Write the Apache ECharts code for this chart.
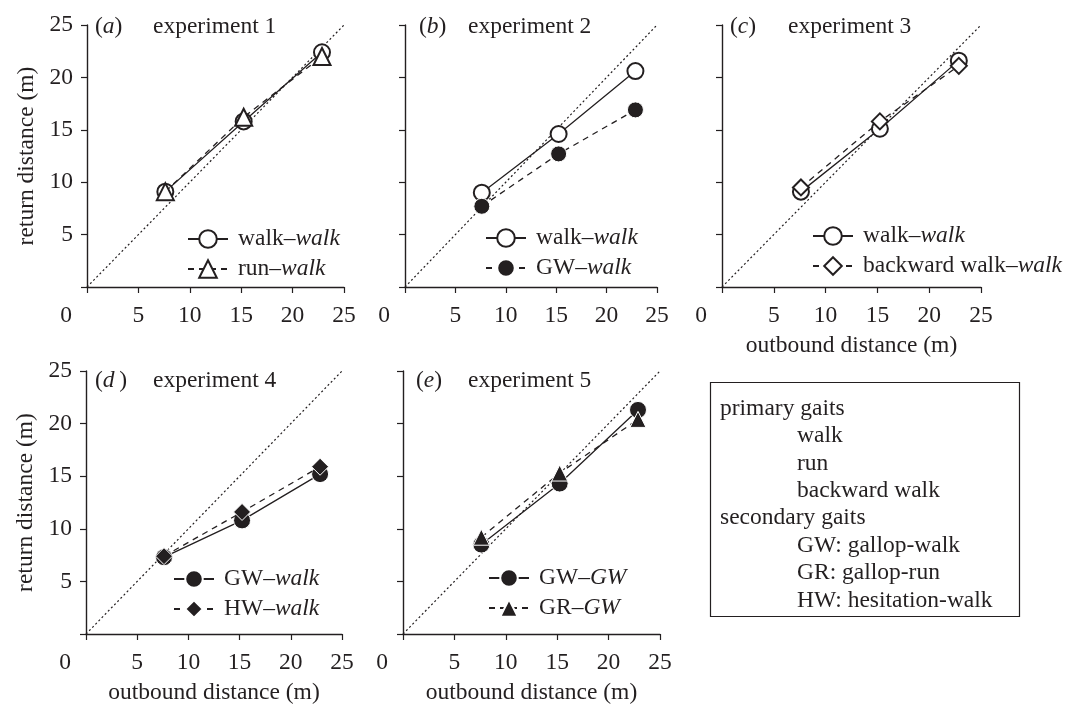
<!DOCTYPE html>
<html>
<head>
<meta charset="utf-8">
<script src="https://cdn.jsdelivr.net/npm/echarts@6/dist/echarts.min.js"></script>
<style>
html,body{margin:0;padding:0;background:#fff;}
#chart{width:1065px;height:706px;}
</style>
</head>
<body>
<div id="chart"></div>
<script>
// ---------- data ----------
const outbound = [7.62, 15.24, 22.86];           // outbound distances (m)
const identityLine = [0, 25];                    // y = x reference
const axisTicks = [0, 5, 10, 15, 20, 25];

const exp1WalkWalk = [9.1, 15.8, 22.4];
const exp1RunWalk = [9.1, 16.2, 22.0];
const exp2WalkWalk = [9.0, 14.6, 20.6];
const exp2GWWalk = [7.7, 12.7, 16.9];
const exp3WalkWalk = [9.1, 15.1, 21.6];
const exp3BackwardWalk = [9.5, 15.8, 21.1];
const exp4GWWalk = [7.3, 10.8, 15.2];
const exp4HWWalk = [7.4, 11.6, 15.9];
const exp5GWGW = [8.5, 14.3, 21.3];
const exp5GRGW = [9.2, 15.3, 20.4];

const panelLetters = ['a', 'b', 'c', 'd', 'e'];
const panelTitles = ['experiment 1', 'experiment 2', 'experiment 3', 'experiment 4', 'experiment 5'];
const yAxisTitle = 'return distance (m)';
const xAxisTitle = 'outbound distance (m)';
const primaryGaits = ['walk', 'run', 'backward walk'];
const secondaryGaits = ['GW: gallop-walk', 'GR: gallop-run', 'HW: hesitation-walk'];

// ---------- layout / style ----------
const FONT = '"Liberation Serif", "DejaVu Serif", serif';
const FS = 23.5;
const INK = '#231f20';

const panels = [
  { grid: {left: 87, top: 25, width: 257, height: 262}, yLabels: true, xName: false,
    legend: {left: 187, top: 227}, letterLeft: 95, titleLeft: 153, titleTop: 15,
    series: [
      {name: 'walk–walk', data: exp1WalkWalk, symbol: 'emptyCircle', size: 16, dashed: false},
      {name: 'run–walk', data: exp1RunWalk, symbol: 'emptyTriangle', size: 17, dashed: true}
    ]},
  { grid: {left: 405, top: 25, width: 252, height: 262}, yLabels: false, xName: false,
    legend: {left: 485, top: 226}, letterLeft: 419, titleLeft: 468, titleTop: 15,
    series: [
      {name: 'walk–walk', data: exp2WalkWalk, symbol: 'emptyCircle', size: 16, dashed: false},
      {name: 'GW–walk', data: exp2GWWalk, symbol: 'circle', size: 16, dashed: true}
    ]},
  { grid: {left: 722, top: 25, width: 259, height: 262}, yLabels: false, xName: true,
    legend: {left: 812, top: 224}, letterLeft: 730, titleLeft: 788, titleTop: 15,
    series: [
      {name: 'walk–walk', data: exp3WalkWalk, symbol: 'emptyCircle', size: 16, dashed: false},
      {name: 'backward walk–walk', data: exp3BackwardWalk, symbol: 'emptyDiamond', size: 16, dashed: true}
    ]},
  { grid: {left: 86, top: 371, width: 256, height: 263}, yLabels: true, xName: true,
    legend: {left: 173, top: 567}, letterLeft: 95, titleLeft: 153, titleTop: 369,
    series: [
      {name: 'GW–walk', data: exp4GWWalk, symbol: 'circle', size: 17, dashed: false},
      {name: 'HW–walk', data: exp4HWWalk, symbol: 'diamond', size: 17, dashed: true}
    ]},
  { grid: {left: 403, top: 371, width: 257, height: 263}, yLabels: false, xName: true,
    legend: {left: 488, top: 566}, letterLeft: 416, titleLeft: 468, titleTop: 369,
    series: [
      {name: 'GW–GW', data: exp5GWGW, symbol: 'circle', size: 17, dashed: false},
      {name: 'GR–GW', data: exp5GRGW, symbol: 'triangle', size: 16, dashed: true}
    ]}
];

const uniq = (name, i) => name + '\u200b'.repeat(i + 1);
const clean = name => name.replace(/\u200b/g, '');

const grid = [], xAxis = [], yAxis = [], series = [], legend = [], title = [];

panels.forEach((p, i) => {
  grid.push(Object.assign({containLabel: false}, p.grid));
  xAxis.push({
    type: 'value', gridIndex: i, min: axisTicks[0], max: axisTicks[axisTicks.length - 1], interval: 5,
    splitLine: {show: false},
    axisLine: {onZero: false, lineStyle: {color: INK, width: 1.4}},
    axisTick: {show: true, inside: false, length: 6, lineStyle: {color: INK, width: 1.2}},
    axisLabel: {
      margin: 17, color: INK, fontFamily: FONT, fontSize: FS,
      formatter: v => v === 0 ? '{z|0}' : String(v),
      rich: {z: {padding: [0, 42, 0, 0], fontFamily: FONT, fontSize: FS, color: INK}}
    },
    name: p.xName ? xAxisTitle : '', nameLocation: 'middle', nameGap: 47,
    nameTextStyle: {color: INK, fontFamily: FONT, fontSize: FS}
  });
  yAxis.push({
    type: 'value', gridIndex: i, min: axisTicks[0], max: axisTicks[axisTicks.length - 1], interval: 5,
    splitLine: {show: false},
    axisLine: {onZero: false, lineStyle: {color: INK, width: 1.4}},
    axisTick: {show: true, inside: false, length: 6, lineStyle: {color: INK, width: 1.2}},
    axisLabel: {
      show: p.yLabels, margin: 14, color: INK, fontFamily: FONT, fontSize: FS,
      formatter: v => v === 0 ? '' : String(v)
    },
    name: p.yLabels ? yAxisTitle : '', nameLocation: 'middle', nameGap: 48,
    nameTextStyle: {color: INK, fontFamily: FONT, fontSize: FS}
  });
  // identity line
  series.push({
    type: 'line', xAxisIndex: i, yAxisIndex: i, silent: true, symbol: 'none',
    data: identityLine.map(v => [v, v]),
    lineStyle: {color: INK, width: 1.2, type: [2, 2.5]}, z: 1
  });
  const names = [];
  p.series.forEach(s => {
    const nm = uniq(s.name, i);
    names.push(nm);
    const filled = !s.symbol.startsWith('empty');
    series.push({
      type: 'line', name: nm, xAxisIndex: i, yAxisIndex: i,
      data: outbound.map((x, k) => [x, s.data[k]]),
      symbol: s.symbol, symbolSize: s.size, showAllSymbol: true,
      lineStyle: {color: INK, width: 1.3, type: s.dashed ? [6, 5] : 'solid'},
      itemStyle: filled ? {color: INK, borderColor: '#fff', borderWidth: 1}
                        : {color: INK, borderColor: INK, borderWidth: 1.3},
      emphasis: {disabled: true}, z: s.dashed ? 3 : 2
    });
  });
  legend.push({
    data: names, orient: 'vertical', left: p.legend.left, top: p.legend.top,
    padding: 0, itemWidth: 40, itemHeight: 22, itemGap: 6, selectedMode: false,
    formatter: n => {
      const c = clean(n);
      const idx = c.lastIndexOf('–');
      return '{n|' + c.slice(0, idx + 1) + '}{i|' + c.slice(idx + 1) + '}';
    },
    textStyle: {
      color: INK, fontFamily: FONT, fontSize: FS,
      rich: {
        n: {padding: [0, 0, 0, 5], color: INK, fontFamily: FONT, fontSize: FS},
        i: {fontStyle: 'italic', color: INK, fontFamily: FONT, fontSize: FS}
      }
    }
  });
  title.push({
    text: '{p|(}{i|' + panelLetters[i] + '}{p|' + (panelLetters[i] === 'd' ? '\u2009)' : ')') + '}',
    left: p.letterLeft, top: p.titleTop, padding: 0,
    textStyle: {
      fontFamily: FONT, fontSize: FS, color: INK, fontWeight: 'normal',
      rich: {p: {fontFamily: FONT, fontSize: FS, color: INK}, i: {fontFamily: FONT, fontSize: FS, color: INK, fontStyle: 'italic'}}
    }
  });
  title.push({
    text: panelTitles[i], left: p.titleLeft, top: p.titleTop, padding: 0,
    textStyle: {fontFamily: FONT, fontSize: FS, color: INK, fontWeight: 'normal'}
  });
});

// gait key box
const keyLines = ['primary gaits']
  .concat(primaryGaits.map(g => '{ind|' + g + '}'))
  .concat(['secondary gaits'])
  .concat(secondaryGaits.map(g => '{ind|' + g + '}'));
title.push({
  text: keyLines.join('\n'), left: 710, top: 382,
  padding: [13, 27, 3, 10], borderColor: INK, borderWidth: 1.2,
  textStyle: {
    fontFamily: FONT, fontSize: FS, color: INK, fontWeight: 'normal', lineHeight: 27.4,
    rich: {ind: {padding: [0, 0, 0, 77], fontFamily: FONT, fontSize: FS, color: INK, lineHeight: 27.4}}
  }
});

const chart = echarts.init(document.getElementById('chart'), null, {renderer: 'canvas'});
chart.setOption({
  animation: false, backgroundColor: '#fff',
  grid, xAxis, yAxis, series, legend, title
});
</script>
</body>
</html>
